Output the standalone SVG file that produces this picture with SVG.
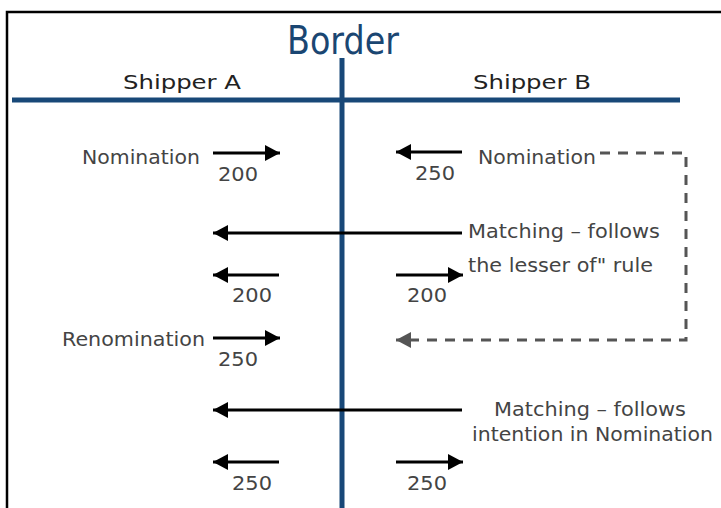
<svg xmlns="http://www.w3.org/2000/svg" width="721" height="508" viewBox="0 0 721 508">
<defs>
<marker id="ah" viewBox="0 0 10 10" refX="10" refY="5" markerWidth="15" markerHeight="16" markerUnits="userSpaceOnUse" orient="auto" preserveAspectRatio="none"><path d="M0,0 L10,5 L0,10 Z" fill="#000"/></marker>
<marker id="ahg" viewBox="0 0 10 10" refX="10" refY="5" markerWidth="15" markerHeight="16" markerUnits="userSpaceOnUse" orient="auto" preserveAspectRatio="none"><path d="M0,0 L10,5 L0,10 Z" fill="#555"/></marker>
</defs>
<style>
.t{font-family:"DejaVu Sans",Verdana,sans-serif;font-size:19px;fill:#444}
.n{font-family:"DejaVu Sans",Verdana,sans-serif;font-size:20px;fill:#444}
.h{font-family:"DejaVu Sans",Verdana,sans-serif;font-size:20px;fill:#222}
.a{stroke:#000;stroke-width:3;fill:none;marker-end:url(#ah)}
.d{stroke:#555;stroke-width:3;fill:none;stroke-dasharray:10,8}
.b{stroke:#184878;stroke-width:5}
</style>
<rect width="721" height="508" fill="#fff"/>
<path d="M7,508 V12 H721" stroke="#000" stroke-width="2.5" fill="none"/>
<g id="frame-lines">
<line class="b" x1="12" y1="100" x2="680" y2="100"/>
<line class="b" x1="342" y1="58" x2="342" y2="508"/>
</g>
<g id="title"><text x="343" y="54" text-anchor="middle" font-family="DejaVu Sans, sans-serif" font-size="39" fill="#1a4672" textLength="112" lengthAdjust="spacingAndGlyphs">Border</text></g>
<g id="shipperA"><text class="h" x="182" y="89" text-anchor="middle" textLength="118" lengthAdjust="spacingAndGlyphs">Shipper A</text></g>
<g id="shipperB"><text class="h" x="532" y="89" text-anchor="middle" textLength="118" lengthAdjust="spacingAndGlyphs">Shipper B</text></g>
<g id="labels">
<text class="t" x="82" y="164" textLength="118" lengthAdjust="spacingAndGlyphs">Nomination</text>
<text class="t" x="478" y="164" textLength="118" lengthAdjust="spacingAndGlyphs">Nomination</text>
<text class="t" x="468" y="238" textLength="192" lengthAdjust="spacingAndGlyphs">Matching – follows</text>
<text class="t" x="468" y="272" textLength="185" lengthAdjust="spacingAndGlyphs">the lesser of" rule</text>
<text class="t" x="62" y="346" textLength="143" lengthAdjust="spacingAndGlyphs">Renomination</text>
<text class="t" x="494" y="416" textLength="192" lengthAdjust="spacingAndGlyphs">Matching – follows</text>
<text class="t" x="472" y="441" textLength="241" lengthAdjust="spacingAndGlyphs">intention in Nomination</text>
<text class="n" x="218" y="181" textLength="40" lengthAdjust="spacingAndGlyphs">200</text>
<text class="n" x="415" y="180" textLength="40" lengthAdjust="spacingAndGlyphs">250</text>
<text class="n" x="232" y="302" textLength="40" lengthAdjust="spacingAndGlyphs">200</text>
<text class="n" x="407" y="302" textLength="40" lengthAdjust="spacingAndGlyphs">200</text>
<text class="n" x="218" y="366" textLength="40" lengthAdjust="spacingAndGlyphs">250</text>
<text class="n" x="232" y="490" textLength="40" lengthAdjust="spacingAndGlyphs">250</text>
<text class="n" x="407" y="490" textLength="40" lengthAdjust="spacingAndGlyphs">250</text>
</g>
<g id="connectors">
<line class="a" x1="213" y1="153" x2="280" y2="153"/>
<line class="a" x1="462" y1="152" x2="396" y2="152"/>
<line class="a" x1="462" y1="233" x2="213" y2="233"/>
<line class="a" x1="279" y1="275" x2="213" y2="275"/>
<line class="a" x1="396" y1="275" x2="463" y2="275"/>
<line class="a" x1="213" y1="338" x2="280" y2="338"/>
<line class="a" x1="462" y1="410" x2="213" y2="410"/>
<line class="a" x1="279" y1="462" x2="213" y2="462"/>
<line class="a" x1="396" y1="462" x2="463" y2="462"/>
<path class="d" d="M600,153 H686 V340 H412"/>
<line x1="412" y1="340" x2="396" y2="340" stroke="#555" stroke-width="3" marker-end="url(#ahg)"/>
</g>
</svg>
